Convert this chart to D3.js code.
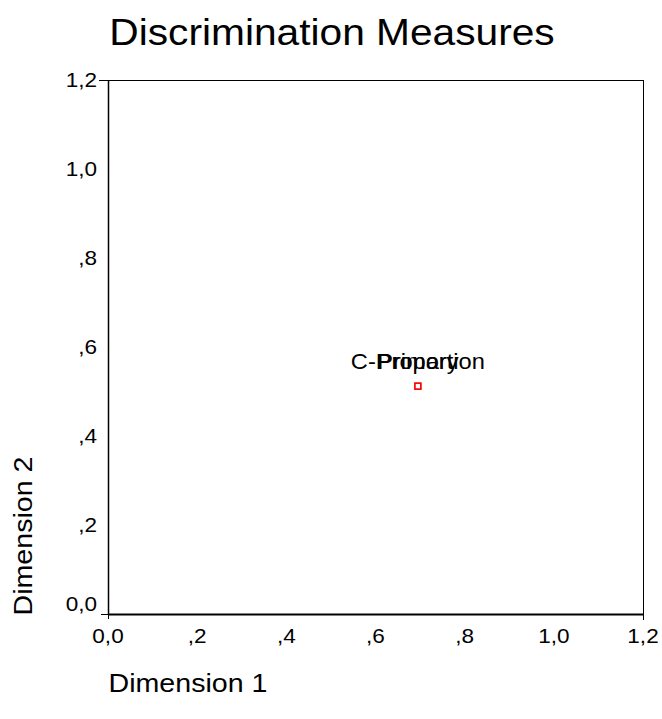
<!DOCTYPE html>
<html>
<head>
<meta charset="utf-8">
<script src="https://cdn.jsdelivr.net/npm/d3@7"></script>
<style>
  html, body { margin: 0; padding: 0; background: #fff; }
  svg { display: block; }
  text { font-family: "Liberation Sans", Arial, Helvetica, sans-serif; fill: #000; }
</style>
</head>
<body>
<svg id="chart" width="662" height="719"></svg>
<script>
// ---- data ----
const variables = ["C-Proportion", "Primary"];
const dimension1 = [0.695, 0.695];
const dimension2 = [0.512, 0.512];
const tickValues = [0, 0.2, 0.4, 0.6, 0.8, 1.0, 1.2];
const tickLabels = ["0,0", ",2", ",4", ",6", ",8", "1,0", "1,2"];
const titleText = "Discrimination Measures";
const xTitle = "Dimension 1";
const yTitle = "Dimension 2";

// ---- layout ----
const plot = { left: 108, right: 643, top: 80, bottom: 614 };
const stretch = 1.1; // horizontal text stretch seen in the reference

const svg = d3.select("#chart");
const x = d3.scaleLinear().domain([0, 1.2]).range([plot.left, plot.right]);
const y = d3.scaleLinear().domain([0, 1.2]).range([plot.bottom, plot.top]);

function stext(g, tx, ty, str, size, anchor, rot) {
  return g.append("text")
    .attr("transform", `translate(${tx},${ty})` + (rot ? ` rotate(${rot})` : "") + ` scale(${stretch},1)`)
    .attr("text-anchor", anchor)
    .attr("font-size", size)
    .text(str);
}

// frame (top + right), extended past the corners like the reference
svg.append("line").attr("x1", plot.left - 9).attr("x2", plot.right + 1)
  .attr("y1", plot.top + 0.5).attr("y2", plot.top + 0.5)
  .attr("stroke", "#000").attr("stroke-width", 1);
svg.append("line").attr("x1", plot.right + 0.5).attr("x2", plot.right + 0.5)
  .attr("y1", plot.top).attr("y2", plot.bottom + 6)
  .attr("stroke", "#000").attr("stroke-width", 1);

// axes (end ticks only)
const endTicks = [tickValues[0], tickValues[tickValues.length - 1]];
const xAxis = d3.axisBottom(x).tickValues(endTicks).tickFormat("").tickSizeOuter(0).tickSizeInner(5);
const yAxis = d3.axisLeft(y).tickValues(endTicks).tickFormat("").tickSizeOuter(0).tickSizeInner(7);
const gx = svg.append("g").attr("transform", `translate(0,${plot.bottom})`).call(xAxis);
const gy = svg.append("g").attr("transform", `translate(${plot.left},0)`).call(yAxis);
gx.select(".domain").attr("stroke", "#000").attr("stroke-width", 2);
gy.select(".domain").attr("stroke", "#000").attr("stroke-width", 1.5);
gx.selectAll(".tick line").attr("stroke", "#000").attr("stroke-width", 1);
gy.selectAll(".tick line").attr("stroke", "#000").attr("stroke-width", 1);

// tick labels
const labels = svg.append("g");
tickValues.forEach((v, i) => {
  stext(labels, x(v), 643, tickLabels[i], 20.5, "middle");
  const yy = i === 0 ? 611 : y(v) + 7.3;
  stext(labels, 97, yy, tickLabels[i], 20.5, "end");
});

// titles
stext(svg, 332, 45, titleText, 37, "middle");
stext(svg, 188, 692, xTitle, 26, "middle");
stext(svg, 32, 536, yTitle, 26, "middle", -90);

// points
const pts = svg.append("g");
variables.forEach((name, i) => {
  const px = x(dimension1[i]), py = y(dimension2[i]);
  pts.append("rect")
    .attr("x", px - 3).attr("y", py - 3)
    .attr("width", 6).attr("height", 6)
    .attr("fill", "none").attr("stroke", "#ff0000").attr("stroke-width", 1.3);
  stext(pts, px, py - 17, name, 21.5, "middle");
});
</script>
</body>
</html>
